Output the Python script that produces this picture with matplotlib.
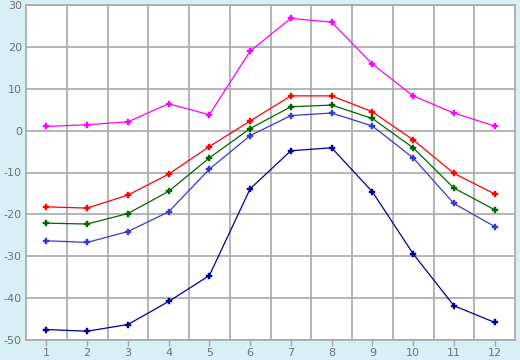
import matplotlib
matplotlib.use('Agg')
import matplotlib.pyplot as plt

# ── DATA ───────────────────────────────────────
months = [1, 2, 3, 4, 5, 6, 7, 8, 9, 10, 11, 12]
s_magenta = [1.0, 1.4, 2.1, 6.4, 3.8, 19.0, 26.8, 25.9, 15.9, 8.3, 4.2, 1.1]
s_red = [-18.2, -18.5, -15.4, -10.4, -3.8, 2.3, 8.3, 8.3, 4.5, -2.2, -10.2, -15.1]
s_green = [-22.1, -22.3, -19.8, -14.5, -6.5, 0.5, 5.7, 6.1, 2.9, -4.1, -13.7, -18.9]
s_blue = [-26.3, -26.7, -24.1, -19.4, -9.2, -1.2, 3.6, 4.2, 1.1, -6.5, -17.4, -22.9]
s_navy = [-47.5, -47.9, -46.3, -40.8, -34.6, -13.9, -4.8, -4.1, -14.6, -29.4, -41.8, -45.8]
y_ticks = [-50, -40, -30, -20, -10, 0, 10, 20, 30]

BG = '#d9eff6'
GRID = '#a8a8a8'
TXT = '#707070'

fig = plt.figure(figsize=(5.2, 3.6), dpi=100, facecolor=BG)
ax = fig.add_axes([26/520, 20/360, 489/520, 335/360])
ax.set_facecolor('white')

series = [(s_magenta, '#ff00ff'), (s_red, '#ff0000'), (s_green, '#006600'),
          (s_blue, '#3838d0'), (s_navy, '#000099')]
for vals, col in series:
    ax.plot(months, vals, color=col, lw=0.9, marker='P', ms=5,
            mfc=col, mec=col, markeredgewidth=0.3, zorder=3)

ax.set_xlim(0.5, 12.5)
ax.set_ylim(-50, 30)
ax.set_xticks(months)
ax.set_xticks([m + 0.5 for m in months[:-1]], minor=True)
ax.set_yticks(y_ticks)
ax.set_yticklabels([str(v) for v in y_ticks])

ax.grid(True, which='minor', axis='x', color=GRID, lw=1.2)
ax.grid(True, which='major', axis='y', color=GRID, lw=1.2)
ax.tick_params(axis='x', which='major', length=4, color=GRID, width=1,
               labelsize=8, labelcolor=TXT, pad=2)
ax.tick_params(axis='x', which='minor', length=0)
ax.tick_params(axis='y', length=0, labelsize=8, labelcolor=TXT, pad=3)
for sp in ax.spines.values():
    sp.set_color(GRID)
    sp.set_linewidth(1.2)
ax.set_axisbelow(True)

fig.savefig('out.png', dpi=100, facecolor=BG)
